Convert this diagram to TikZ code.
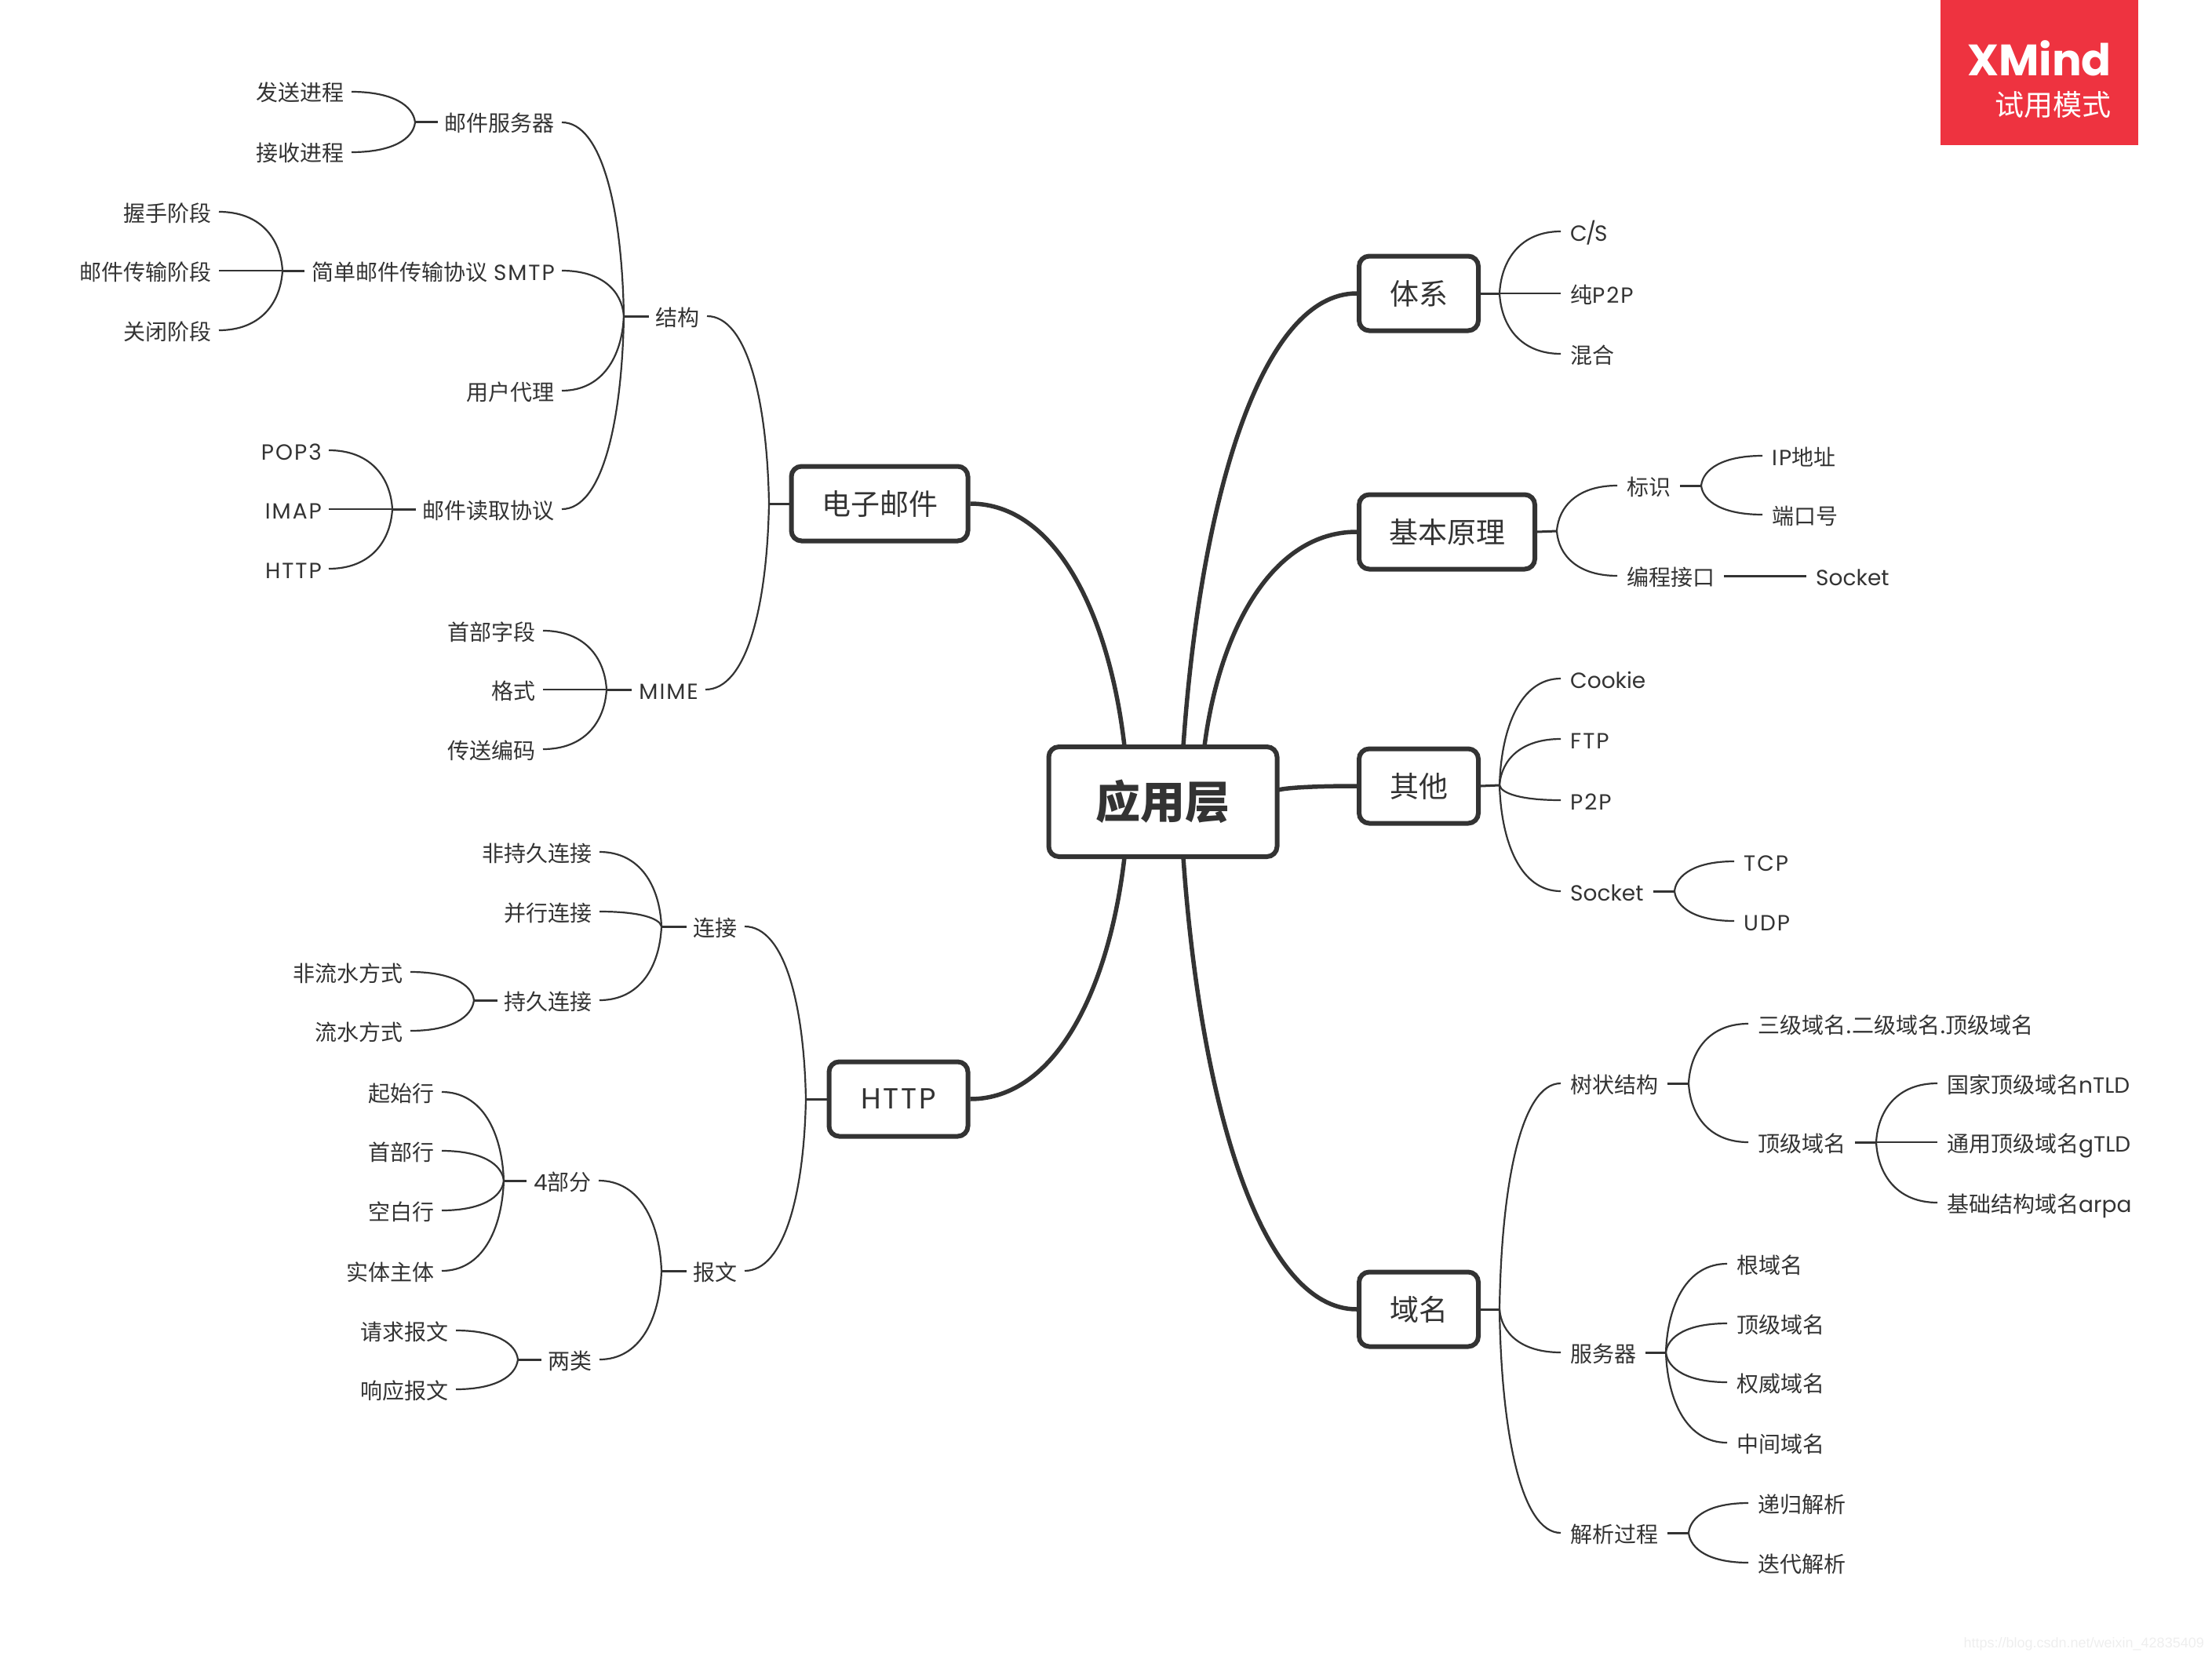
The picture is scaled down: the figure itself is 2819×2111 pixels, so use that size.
\documentclass[tikz,border=0pt]{standalone}
\usepackage{fontspec}
\usetikzlibrary{calc}
\setmainfont{Poppins}
\newfontfamily\cjk{Noto Sans CJK SC}
\newfontfamily\caps{Poppins}[LetterSpace=7]
\newfontfamily\urlfont{Liberation Sans}
\definecolor{ink}{HTML}{333333}
\definecolor{xred}{HTML}{EE3340}
\definecolor{mark}{HTML}{EEEEEE}
\tikzset{
    topic/.style={draw=ink, line width=6pt, rounded corners=13pt, fill=white, text=ink, minimum height=95pt, inner sep=0pt, font=\fontsize{37pt}{40pt}\selectfont},
    rleaf/.style={anchor=west, text=ink, inner xsep=12pt, xshift=-12pt, inner ysep=0pt, text height=30pt, text depth=6pt, font=\fontsize{28pt}{32pt}\selectfont},
    lleaf/.style={anchor=east, text=ink, inner xsep=9pt, xshift=11pt, inner ysep=0pt, text height=30pt, text depth=6pt, font=\fontsize{28pt}{32pt}\selectfont},
    stub/.style={draw=ink, line width=3pt},
    twig/.style={draw=ink, line width=2.2pt, to path={let \p1=(\tikztostart), \p2=(\tikztotarget) in .. controls ({\x1+0.03*(\x2-\x1)},{\y1+0.55*(\y2-\y1)}) and ({\x1+0.35*(\x2-\x1)},\y2) .. (\tikztotarget)}},
    bough/.style={draw=ink, line width=5.5pt, to path={let \p1=(\tikztostart), \p2=(\tikztotarget) in .. controls ({\x1+0.1*(\x2-\x1)},{\y1+0.55*(\y2-\y1)}) and ({\x1+0.45*(\x2-\x1)},\y2) .. (\tikztotarget)}}
}
\begin{document}
\begin{tikzpicture}[x=1pt,y=-1pt]
    \useasboundingbox (0,0) rectangle (2819,2111);
    \coordinate (rootA) at (1433,951);
    \coordinate (rootB) at (1508,951);
    \coordinate (rootC) at (1535,951);
    \coordinate (rootD) at (1629,1007);
    \coordinate (rootE) at (1508,1093);
    \coordinate (rootF) at (1433,1093);
    \coordinate (jSystem) at (1911,374);
    \coordinate (jBasic) at (1984,677);
    \coordinate (jMark) at (2168,619);
    \coordinate (jOther) at (1911,1001);
    \coordinate (jSock) at (2134,1136);
    \coordinate (jDomain) at (1911,1669);
    \coordinate (jTree) at (2152,1381);
    \coordinate (jTop) at (2391,1456);
    \coordinate (jServer) at (2123,1724);
    \coordinate (jResolve) at (2152,1954);
    \coordinate (jMail) at (980,642);
    \coordinate (jStruct) at (795,403);
    \coordinate (jMime) at (773,879);
    \coordinate (jMailSrv) at (529,156);
    \coordinate (jSmtp) at (360,345);
    \coordinate (jRead) at (500,649);
    \coordinate (jHttp) at (1027,1401);
    \coordinate (jConn) at (843,1181);
    \coordinate (jKeep) at (604,1275);
    \coordinate (jMsg) at (843,1620);
    \coordinate (jParts) at (642,1505);
    \coordinate (jKinds) at (660,1733);

    \node[topic, minimum width=291pt, minimum height=140pt, font=\fontsize{57pt}{60pt}\selectfont] (root) at (1482,1022) {{\cjk\bfseries 应用层}};
    \node[topic, minimum width=152pt] (system) at (1808,374) {{\cjk 体系}};
    \node[topic, minimum width=224pt] (basic) at (1844,678) {{\cjk 基本原理}};
    \node[topic, minimum width=152pt] (other) at (1808,1002) {{\cjk 其他}};
    \node[topic, minimum width=152pt] (domain) at (1808,1669) {{\cjk 域名}};
    \node[topic, minimum width=225pt] (mail) at (1121,642) {{\cjk 电子邮件}};
    \node[topic, minimum width=177pt] (http) at (1145,1401) {{\caps HTTP}};

    \node[rleaf] (cs) at (2001,295) {C\kern-2pt/\kern-2pt S};
    \node[rleaf] (ptp) at (2001,374) {{\cjk 纯}{\caps P2P}};
    \node[rleaf] (hybrid) at (2001,451) {{\cjk 混合}};
    \node[rleaf] (ident) at (2073,619) {{\cjk 标识}};
    \node[rleaf] (ipaddr) at (2258,581) {{\caps IP}{\cjk 地址}};
    \node[rleaf] (port) at (2258,656) {{\cjk 端口号}};
    \node[rleaf] (api) at (2073,734) {{\cjk 编程接口}};
    \node[rleaf] (apisock) at (2314,734) {Socket};
    \node[rleaf] (cookie) at (2001,865) {Cookie};
    \node[rleaf] (ftp) at (2001,942) {{\caps FTP}};
    \node[rleaf] (otherp) at (2001,1020) {{\caps P2P}};
    \node[rleaf] (sock) at (2001,1136) {Socket};
    \node[rleaf] (tcp) at (2222,1098) {{\caps TCP}};
    \node[rleaf] (udp) at (2222,1174) {{\caps UDP}};
    \node[rleaf] (tree) at (2001,1381) {{\cjk 树状结构}};
    \node[rleaf] (levels) at (2240,1305) {{\cjk 三级域名.二级域名.顶级域名}};
    \node[rleaf] (top) at (2240,1456) {{\cjk 顶级域名}};
    \node[rleaf] (ntld) at (2481,1381) {{\cjk 国家顶级域名}nTLD};
    \node[rleaf] (gtld) at (2481,1456) {{\cjk 通用顶级域名}gTLD};
    \node[rleaf] (arpa) at (2481,1533) {{\cjk 基础结构域名}arpa};
    \node[rleaf] (server) at (2001,1724) {{\cjk 服务器}};
    \node[rleaf] (srvroot) at (2213,1611) {{\cjk 根域名}};
    \node[rleaf] (srvtop) at (2213,1687) {{\cjk 顶级域名}};
    \node[rleaf] (srvauth) at (2213,1762) {{\cjk 权威域名}};
    \node[rleaf] (srvmid) at (2213,1839) {{\cjk 中间域名}};
    \node[rleaf] (resolve) at (2001,1954) {{\cjk 解析过程}};
    \node[rleaf] (recur) at (2240,1916) {{\cjk 递归解析}};
    \node[rleaf] (iter) at (2240,1992) {{\cjk 迭代解析}};

    \node[lleaf] (struct) at (890,403) {{\cjk 结构}};
    \node[lleaf] (mime) at (888,879) {{\caps MIME}};
    \node[lleaf] (mailsrv) at (705,156) {{\cjk 邮件服务器}};
    \node[lleaf] (send) at (437,117) {{\cjk 发送进程}};
    \node[lleaf] (recv) at (437,194) {{\cjk 接收进程}};
    \node[lleaf] (smtp) at (705,345) {{\cjk 简单邮件传输协议} {\caps SMTP}};
    \node[lleaf] (shake) at (268,270) {{\cjk 握手阶段}};
    \node[lleaf] (trans) at (268,345) {{\cjk 邮件传输阶段}};
    \node[lleaf] (close) at (268,421) {{\cjk 关闭阶段}};
    \node[lleaf] (agent) at (705,498) {{\cjk 用户代理}};
    \node[lleaf] (read) at (705,649) {{\cjk 邮件读取协议}};
    \node[lleaf] (pop) at (408,574) {{\caps POP3}};
    \node[lleaf] (imap) at (408,649) {{\caps IMAP}};
    \node[lleaf] (readhttp) at (408,725) {{\caps HTTP}};
    \node[lleaf] (head) at (681,804) {{\cjk 首部字段}};
    \node[lleaf] (format) at (681,879) {{\cjk 格式}};
    \node[lleaf] (encode) at (681,955) {{\cjk 传送编码}};
    \node[lleaf] (conn) at (938,1181) {{\cjk 连接}};
    \node[lleaf] (nonkeep) at (753,1086) {{\cjk 非持久连接}};
    \node[lleaf] (para) at (753,1162) {{\cjk 并行连接}};
    \node[lleaf] (keep) at (753,1275) {{\cjk 持久连接}};
    \node[lleaf] (nonpipe) at (512,1239) {{\cjk 非流水方式}};
    \node[lleaf] (pipe) at (512,1314) {{\cjk 流水方式}};
    \node[lleaf] (msg) at (938,1620) {{\cjk 报文}};
    \node[lleaf] (parts) at (752,1505) {4{\cjk 部分}};
    \node[lleaf] (start) at (552,1392) {{\cjk 起始行}};
    \node[lleaf] (headl) at (552,1467) {{\cjk 首部行}};
    \node[lleaf] (blank) at (552,1543) {{\cjk 空白行}};
    \node[lleaf] (body) at (552,1620) {{\cjk 实体主体}};
    \node[lleaf] (kinds) at (753,1733) {{\cjk 两类}};
    \node[lleaf] (req) at (570,1696) {{\cjk 请求报文}};
    \node[lleaf] (resp) at (570,1771) {{\cjk 响应报文}};

    \draw[bough] (rootA) to (mail.east);
    \draw[bough] (rootB) to (system.west);
    \draw[bough] (rootC) to (basic.west);
    \draw[bough] (rootD) to (other.west);
    \draw[bough] (rootE) to (domain.west);
    \draw[bough] (rootF) to (http.east);

    \draw[stub] (system.east) -- (jSystem);
    \draw[stub] (basic.east) -- (jBasic);
    \draw[stub] (other.east) -- (jOther);
    \draw[stub] (domain.east) -- (jDomain);
    \draw[stub] (mail.west) -- (jMail);
    \draw[stub] (http.west) -- (jHttp);
    \draw[stub] (ident.east) -- (jMark);
    \draw[stub] (api.east) -- (apisock.west);
    \draw[stub] (sock.east) -- (jSock);
    \draw[stub] (tree.east) -- (jTree);
    \draw[stub] (top.east) -- (jTop);
    \draw[stub] (server.east) -- (jServer);
    \draw[stub] (resolve.east) -- (jResolve);
    \draw[stub] (struct.west) -- (jStruct);
    \draw[stub] (mime.west) -- (jMime);
    \draw[stub] (mailsrv.west) -- (jMailSrv);
    \draw[stub] (smtp.west) -- (jSmtp);
    \draw[stub] (read.west) -- (jRead);
    \draw[stub] (conn.west) -- (jConn);
    \draw[stub] (keep.west) -- (jKeep);
    \draw[stub] (msg.west) -- (jMsg);
    \draw[stub] (parts.west) -- (jParts);
    \draw[stub] (kinds.west) -- (jKinds);

    \foreach \kid in {cs,ptp,hybrid} \draw[twig] (jSystem) to (\kid.west);
    \foreach \kid in {ident,api} \draw[twig] (jBasic) to (\kid.west);
    \foreach \kid in {ipaddr,port} \draw[twig] (jMark) to (\kid.west);
    \foreach \kid in {cookie,ftp,otherp,sock} \draw[twig] (jOther) to (\kid.west);
    \foreach \kid in {tcp,udp} \draw[twig] (jSock) to (\kid.west);
    \foreach \kid in {tree,server,resolve} \draw[twig] (jDomain) to (\kid.west);
    \foreach \kid in {levels,top} \draw[twig] (jTree) to (\kid.west);
    \foreach \kid in {ntld,gtld,arpa} \draw[twig] (jTop) to (\kid.west);
    \foreach \kid in {srvroot,srvtop,srvauth,srvmid} \draw[twig] (jServer) to (\kid.west);
    \foreach \kid in {recur,iter} \draw[twig] (jResolve) to (\kid.west);
    \foreach \kid in {struct,mime} \draw[twig] (jMail) to (\kid.east);
    \foreach \kid in {mailsrv,smtp,agent,read} \draw[twig] (jStruct) to (\kid.east);
    \foreach \kid in {send,recv} \draw[twig] (jMailSrv) to (\kid.east);
    \foreach \kid in {shake,trans,close} \draw[twig] (jSmtp) to (\kid.east);
    \foreach \kid in {pop,imap,readhttp} \draw[twig] (jRead) to (\kid.east);
    \foreach \kid in {head,format,encode} \draw[twig] (jMime) to (\kid.east);
    \foreach \kid in {conn,msg} \draw[twig] (jHttp) to (\kid.east);
    \foreach \kid in {nonkeep,para,keep} \draw[twig] (jConn) to (\kid.east);
    \foreach \kid in {nonpipe,pipe} \draw[twig] (jKeep) to (\kid.east);
    \foreach \kid in {parts,kinds} \draw[twig] (jMsg) to (\kid.east);
    \foreach \kid in {start,headl,blank,body} \draw[twig] (jParts) to (\kid.east);
    \foreach \kid in {req,resp} \draw[twig] (jKinds) to (\kid.east);

    \fill[xred] (2473,0) rectangle (2725,185);
    \node[anchor=base east, text=white, inner sep=0pt, font=\fontsize{56pt}{60pt}\selectfont\bfseries] (brand) at (2691,97) {XMind};
    \node[anchor=base east, text=white, inner sep=0pt, font=\fontsize{37pt}{40pt}\selectfont] (trial) at (2691,148) {{\cjk 试用模式}};
    \node[anchor=base east, text=mark, inner sep=0pt, font=\fontsize{18pt}{20pt}\selectfont\urlfont] (url) at (2809,2100) {https://blog.csdn.net/weixin\_42835409};
\end{tikzpicture}
\end{document}
